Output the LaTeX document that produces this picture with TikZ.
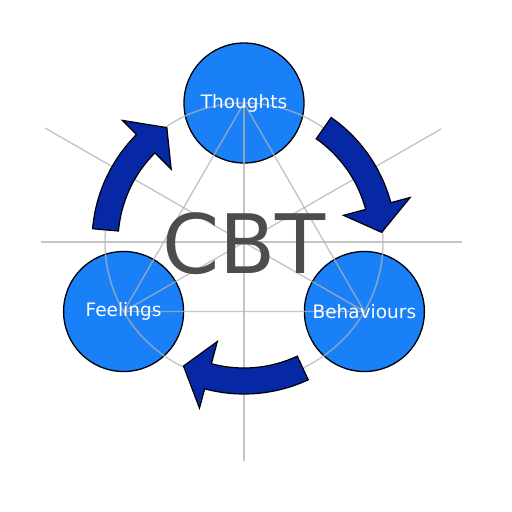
\documentclass[tikz,border=0pt]{standalone}
\usepackage{fontspec}
\setmainfont{DejaVu Sans}
\usetikzlibrary{calc}
\begin{document}
\begin{tikzpicture}[x=1pt,y=-1pt,
  bubble/.style={circle,draw=black,line width=1.3pt,fill=bubblefill,minimum size=120pt,inner sep=0pt,text=white,font=\fontsize{18}{20}\selectfont},
  guide/.style={draw=gray!60,line width=1.4pt,opacity=0.75},
  cyclearrow/.style={fill=arrowfill,draw=black,line width=1.2pt,line join=miter}]
\definecolor{bubblefill}{HTML}{1A80F8}
\definecolor{arrowfill}{HTML}{0628A4}
\definecolor{cbtgrey}{HTML}{4D4D4D}
\useasboundingbox (0,0) rectangle (512,512);
\coordinate (c) at (244,242);
% circles
\node[bubble] (th) at ($(c)+(0,-139)$) {};
\node[bubble] (be) at ($(c)+(120.4,69.5)$) {};
\node[bubble] (fe) at ($(c)+(-120.4,69.5)$) {};
% guide lines
\coordinate (vend) at (244,461);
\coordinate (ulend) at (45,128);
\coordinate (urend) at (441,129);
\coordinate (hl) at (41,242);
\coordinate (hr) at (462,242);
\draw[guide] (th.center) -- (vend);
\draw[guide] (be.center) -- (ulend);
\draw[guide] (fe.center) -- (urend);
\draw[guide] (hl) -- (hr);
\draw[guide] (th.center) -- (be.center) -- (fe.center) -- cycle;
\draw[guide] (c) circle[radius=139];
% arrows
\foreach \t in {55,-65,175}{
  \draw[cyclearrow,shift={(c)},yscale=-1]
    (\t:126) arc[start angle=\t, end angle=\t-40, radius=126]
    -- (\t-40:103) -- (\t-51:138) -- (\t-40:172) -- (\t-40:152)
    arc[start angle=\t-40, end angle=\t, radius=152] -- cycle;
}
% labels
\node[text=white,font=\fontsize{18.5}{20}\selectfont] (tht) at (th.center) {Thoughts};
\node[text=white,font=\fontsize{18.5}{20}\selectfont] (bet) at (be.center) {Behaviours};
\node[text=white,font=\fontsize{18.5}{20}\selectfont] (fet) at (fe.center) {Feelings};
\node[text=cbtgrey,font=\fontsize{82}{90}\selectfont] (cbt) at (244,244) {CBT};
\end{tikzpicture}
\end{document}
